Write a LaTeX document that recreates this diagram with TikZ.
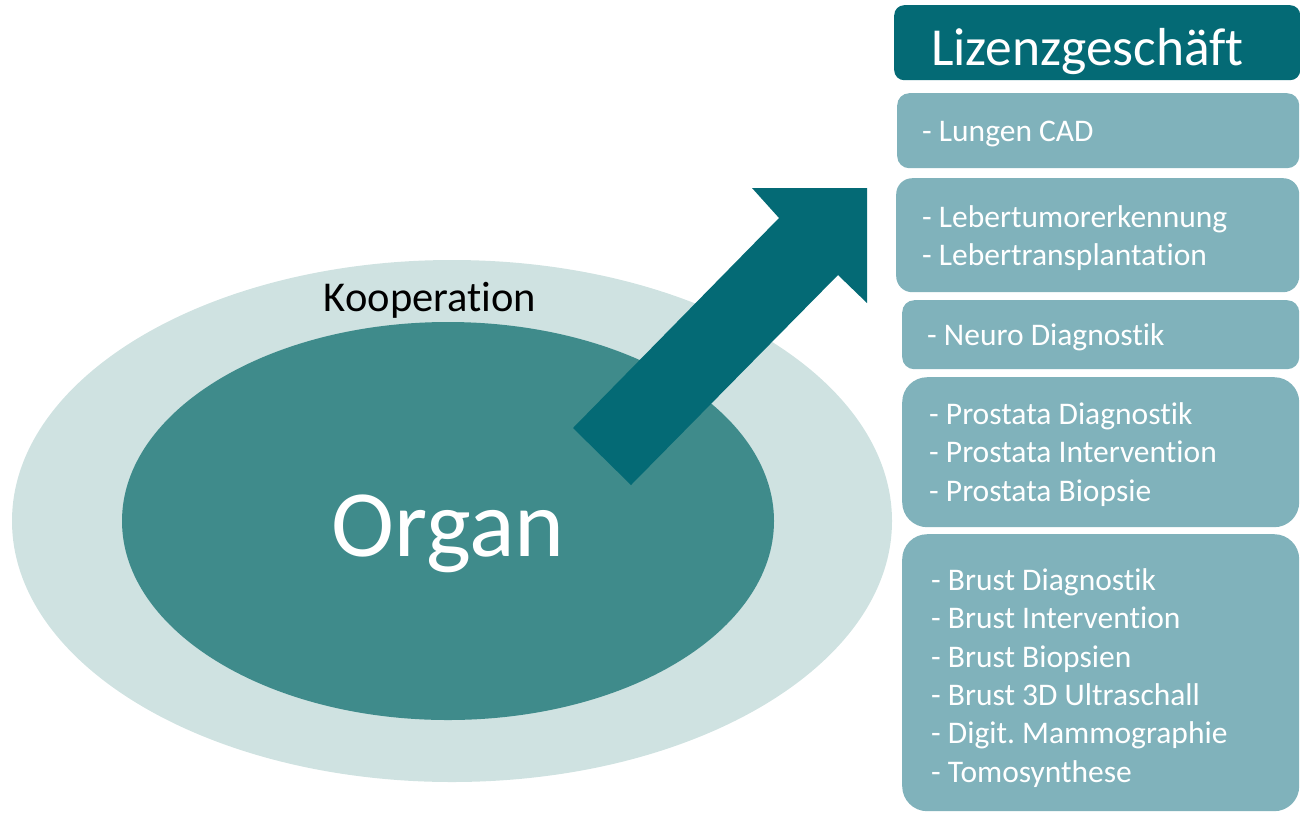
\documentclass[tikz,border=0pt]{standalone}
\usepackage{fontspec}
\setmainfont{Carlito}[Ligatures={NoCommon}]
\usetikzlibrary{shapes.geometric}
\definecolor{outerc}{HTML}{CFE2E1}
\definecolor{innerc}{HTML}{3F8B8B}
\definecolor{darkc}{HTML}{046A75}
\definecolor{boxc}{HTML}{80B2BB}
\frenchspacing
\begin{document}
\begin{tikzpicture}[x=1pt,y=-1pt,
  listbox/.style={draw=none,fill=boxc,anchor=north west,inner sep=0pt},
  listtext/.style={anchor=base west,inner sep=0pt,text=white,font=\fontsize{31.5}{38}\selectfont},
]
\useasboundingbox (0,0) rectangle (1300,812);
% ellipses
\node[ellipse,fill=outerc,minimum width=880pt,minimum height=522pt,inner sep=0pt] (outer) at (452,521) {};
\node[ellipse,fill=innerc,minimum width=652pt,minimum height=398pt,inner sep=0pt] (inner) at (448,521) {};
\node[anchor=base,inner sep=0pt,font=\fontsize{42.5}{50}\selectfont] (koop) at (430,311) {Kooperation};
\node[anchor=base,inner sep=0pt,text=white,font=\fontsize{95}{110}\selectfont] (organ) at (448,556) {Organ};
% arrow
\fill[darkc] (573,428) -- (779,218) -- (752,188) -- (867,188) -- (867,303) -- (838,275) -- (631,485) -- cycle;
% header
\node[listbox,fill=darkc,rounded corners=10pt,minimum width=406pt,minimum height=75pt] (head) at (894,5) {};
\node[anchor=base west,inner sep=0pt,text=white,font=\fontsize{53.5}{60}\selectfont] (headt) at (931,65) {Lizenzgeschäft};
% boxes
\node[listbox,rounded corners=12pt,minimum width=402pt,minimum height=75pt] (b1) at (897,93) {};
\node[listbox,rounded corners=16pt,minimum width=403pt,minimum height=114pt] (b2) at (896,178) {};
\node[listbox,rounded corners=12pt,minimum width=397pt,minimum height=69pt] (b3) at (902,300) {};
\node[listbox,rounded corners=25pt,minimum width=397pt,minimum height=150pt] (b4) at (902,377) {};
\node[listbox,rounded corners=25pt,minimum width=397pt,minimum height=277pt] (b5) at (902,534) {};
% texts
\node[listtext] (t1) at (922,141) {- Lungen CAD};
\node[listtext] (t2a) at (922,227) {- Lebertumorerkennung};
\node[listtext] (t2b) at (922,265) {- Lebertransplantation};
\node[listtext] (t3) at (927,345) {- Neuro Diagnostik};
\node[listtext] (t4a) at (929,424) {- Prostata Diagnostik};
\node[listtext] (t4b) at (929,462) {- Prostata Intervention};
\node[listtext] (t4c) at (929,501) {- Prostata Biopsie};
\node[listtext] (t5a) at (931,590) {- Brust Diagnostik};
\node[listtext] (t5b) at (931,628) {- Brust Intervention};
\node[listtext] (t5c) at (931,667) {- Brust Biopsien};
\node[listtext] (t5d) at (931,705) {- Brust 3D Ultraschall};
\node[listtext] (t5e) at (931,743) {- Digit. Mammographie};
\node[listtext] (t5f) at (931,782) {- Tomosynthese};
\end{tikzpicture}
\end{document}
